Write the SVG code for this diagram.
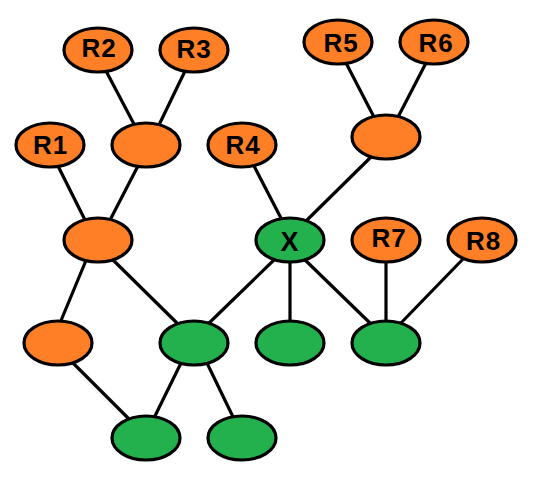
<svg xmlns="http://www.w3.org/2000/svg" width="533" height="488" viewBox="0 0 533 488">
<style>
.e{stroke:#000;stroke-width:3.2}
.o{fill:#FF7F27}
.g{fill:#22B14C}
.c line{stroke:#000;stroke-width:3.2;stroke-linecap:butt}
.t{font-family:"Liberation Sans",Arial,sans-serif;font-weight:bold;font-size:26px;letter-spacing:1px;text-anchor:middle;fill:#000}
</style>
<rect width="533" height="488" fill="#fff"/>
<g id="connectors" class="c">
<line x1="105" y1="69" x2="135" y2="126"/>
<line x1="186" y1="69" x2="158" y2="127"/>
<line x1="57" y1="164" x2="86" y2="222"/>
<line x1="139" y1="164" x2="109" y2="222"/>
<line x1="253" y1="164" x2="283" y2="222"/>
<line x1="372" y1="156" x2="304" y2="223"/>
<line x1="345" y1="61" x2="375" y2="119"/>
<line x1="427" y1="61" x2="397" y2="119"/>
<line x1="276" y1="258" x2="207" y2="325"/>
<line x1="290" y1="258" x2="290" y2="325"/>
<line x1="302" y1="257" x2="372" y2="325"/>
<line x1="386" y1="258" x2="386" y2="325"/>
<line x1="463" y1="259" x2="399" y2="325"/>
<line x1="110" y1="257" x2="180" y2="326"/>
<line x1="87" y1="258" x2="60" y2="323"/>
<line x1="71" y1="361" x2="131" y2="421"/>
<line x1="182" y1="361" x2="153" y2="420"/>
<line x1="206" y1="361" x2="235" y2="421"/>
</g>
<g id="R2"><ellipse class="e o" cx="98" cy="50" rx="34" ry="22"/><text class="t" x="99" y="57">R2</text></g>
<g id="R3"><ellipse class="e o" cx="194" cy="50" rx="34" ry="22"/><text class="t" x="194" y="58">R3</text></g>
<g id="R1"><ellipse class="e o" cx="50" cy="145" rx="34" ry="22"/><text class="t" x="50.5" y="154">R1</text></g>
<g id="M1"><ellipse class="e o" cx="146" cy="145" rx="34" ry="22"/></g>
<g id="R4"><ellipse class="e o" cx="242" cy="145" rx="34" ry="22"/><text class="t" x="243" y="154">R4</text></g>
<g id="R5"><ellipse class="e o" cx="338" cy="42" rx="34" ry="22"/><text class="t" x="341" y="52">R5</text></g>
<g id="R6"><ellipse class="e o" cx="434" cy="42" rx="34" ry="22"/><text class="t" x="436" y="52">R6</text></g>
<g id="M2"><ellipse class="e o" cx="386" cy="137" rx="34" ry="22"/></g>
<g id="L2"><ellipse class="e o" cx="98" cy="240" rx="34" ry="22"/></g>
<g id="X"><ellipse class="e g" cx="290" cy="240" rx="34" ry="22"/><text class="t" x="289.5" y="251" style="font-size:27px;letter-spacing:0">X</text></g>
<g id="R7"><ellipse class="e o" cx="386" cy="240" rx="34" ry="22"/><text class="t" x="389" y="247">R7</text></g>
<g id="R8"><ellipse class="e o" cx="482" cy="240" rx="34" ry="22"/><text class="t" x="483.5" y="250">R8</text></g>
<g id="BL"><ellipse class="e o" cx="58" cy="343" rx="34" ry="22"/></g>
<g id="G1"><ellipse class="e g" cx="194" cy="343" rx="34" ry="22"/></g>
<g id="G2"><ellipse class="e g" cx="290" cy="343" rx="34" ry="22"/></g>
<g id="G3"><ellipse class="e g" cx="386" cy="343" rx="34" ry="22"/></g>
<g id="B1"><ellipse class="e g" cx="146" cy="438" rx="34" ry="22"/></g>
<g id="B2"><ellipse class="e g" cx="242" cy="438" rx="34" ry="22"/></g>
</svg>
